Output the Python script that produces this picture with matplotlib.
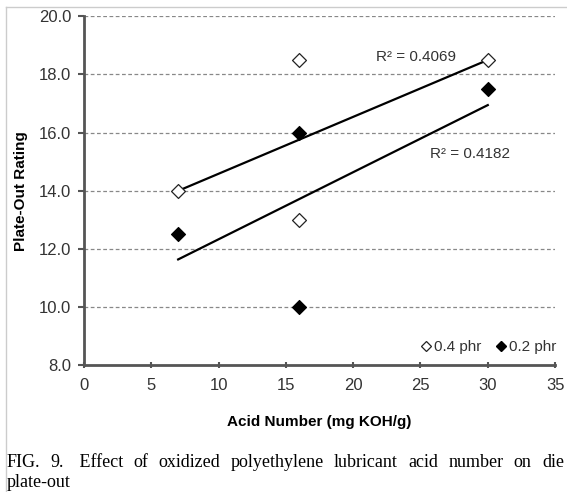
import matplotlib.pyplot as plt
import numpy as np
from matplotlib.lines import Line2D

# acid number (mg KOH/g) and plate-out rating for the two lubricant levels
acid_04 = [7, 16, 16, 30]
rating_04 = [14.0, 18.5, 13.0, 18.5]
acid_02 = [7, 16, 16, 30]
rating_02 = [12.5, 16.0, 10.0, 17.5]

r2_labels = ['R² = 0.4069', 'R² = 0.4182']
x_ticks = [0, 5, 10, 15, 20, 25, 30, 35]
y_ticks = [8, 10, 12, 14, 16, 18, 20]

caption_words = ['FIG.', '9.', ' Effect', 'of', 'oxidized', 'polyethylene',
                 'lubricant', 'acid', 'number', 'on', 'die']
caption_tail = 'plate-out'

plt.rcParams['font.family'] = ['Liberation Sans', 'DejaVu Sans']

fig = plt.figure(figsize=(5.67, 4.92), dpi=100)
ax = fig.add_axes([0.148, 0.258, 0.831, 0.709])

TXT = '#333333'
SPINE = '#555555'

for y in y_ticks[1:]:
    ax.axhline(y, color='#888888', linestyle=(0, (3, 2)), linewidth=0.9, zorder=1)


def trend(x, y):
    x = np.asarray(x, float)
    y = np.asarray(y, float)
    m, b = np.polyfit(x, y, 1)
    xs = np.array([x.min(), x.max()])
    return xs, m * xs + b


xs, ys = trend(acid_04, rating_04)
ax.plot(xs, ys, color='black', linewidth=1.6, zorder=2)
xs, ys = trend(acid_02, rating_02)
ax.plot(xs, ys, color='black', linewidth=1.6, zorder=2)

ax.scatter(acid_04, rating_04, marker='D', s=50, facecolor='white',
           edgecolor='#222222', linewidths=0.9, zorder=3)
ax.scatter(acid_02, rating_02, marker='D', s=50, facecolor='black',
           edgecolor='black', linewidths=0.9, zorder=3)

ax.text(24.7, 18.6, r2_labels[0], fontsize=11, color=TXT, ha='center', va='center')
ax.text(28.7, 15.25, r2_labels[1], fontsize=11, color=TXT, ha='center', va='center')

ax.set_xlim(0, 35)
ax.set_ylim(8, 20)
ax.set_xticks(x_ticks)
ax.set_yticks(y_ticks)
ax.set_yticklabels([f'{v:.1f}' for v in y_ticks])
ax.tick_params(axis='both', labelsize=12, labelcolor=TXT, color=SPINE,
               width=1.5, length=4)
ax.tick_params(axis='x', direction='inout', pad=7)
ax.tick_params(axis='y', direction='out', pad=5)

for side in ('top', 'right'):
    ax.spines[side].set_visible(False)
for side in ('left', 'bottom'):
    ax.spines[side].set_color(SPINE)
    ax.spines[side].set_linewidth(2.0)

ax.set_xlabel('Acid Number (mg KOH/g)', fontsize=11, fontweight='bold',
              color='black', labelpad=16)
ax.set_ylabel('Plate-Out Rating', fontsize=11, fontweight='bold',
              color='black', labelpad=8)

handles = [
    Line2D([], [], marker='D', linestyle='none', markersize=5,
           markerfacecolor='white', markeredgecolor='#222222', markeredgewidth=0.9),
    Line2D([], [], marker='D', linestyle='none', markersize=5,
           markerfacecolor='black', markeredgecolor='black'),
]
ax.legend(handles, ['0.4 phr', '0.2 phr'], loc='lower right', ncol=2,
          frameon=False, fontsize=11, handletextpad=0.0, columnspacing=0.8,
          handlelength=1.0, borderaxespad=0.3, labelcolor=TXT,
          bbox_to_anchor=(1.025, 0.0))

# thin frame around the figure panel
fig.add_artist(Line2D([0.011, 1.0], [0.986, 0.986], transform=fig.transFigure,
                      color='#cccccc', linewidth=1.0))
fig.add_artist(Line2D([0.011, 0.011], [0.986, 0.0], transform=fig.transFigure,
                      color='#cccccc', linewidth=1.0))

# justified caption line: spread the words evenly between the margins
serif = ['Liberation Serif', 'DejaVu Serif']
cap_kw = dict(family=serif, fontsize=13, color='black', ha='left')
left_px, right_px = 7, 564
renderer = fig.canvas.get_renderer()
texts = [fig.text(0, 0, w, va='center', **cap_kw) for w in caption_words]
widths = [t.get_window_extent(renderer).width for t in texts]
gap = (right_px - left_px - sum(widths)) / (len(widths) - 1)
x = left_px
W = fig.bbox.width
for t, w in zip(texts, widths):
    t.set_position((x / W, 0.059))
    x += w + gap

fig.text(left_px / W, 0.002, caption_tail, va='bottom', **cap_kw)

fig.savefig('out.png', dpi=100, facecolor='white')
